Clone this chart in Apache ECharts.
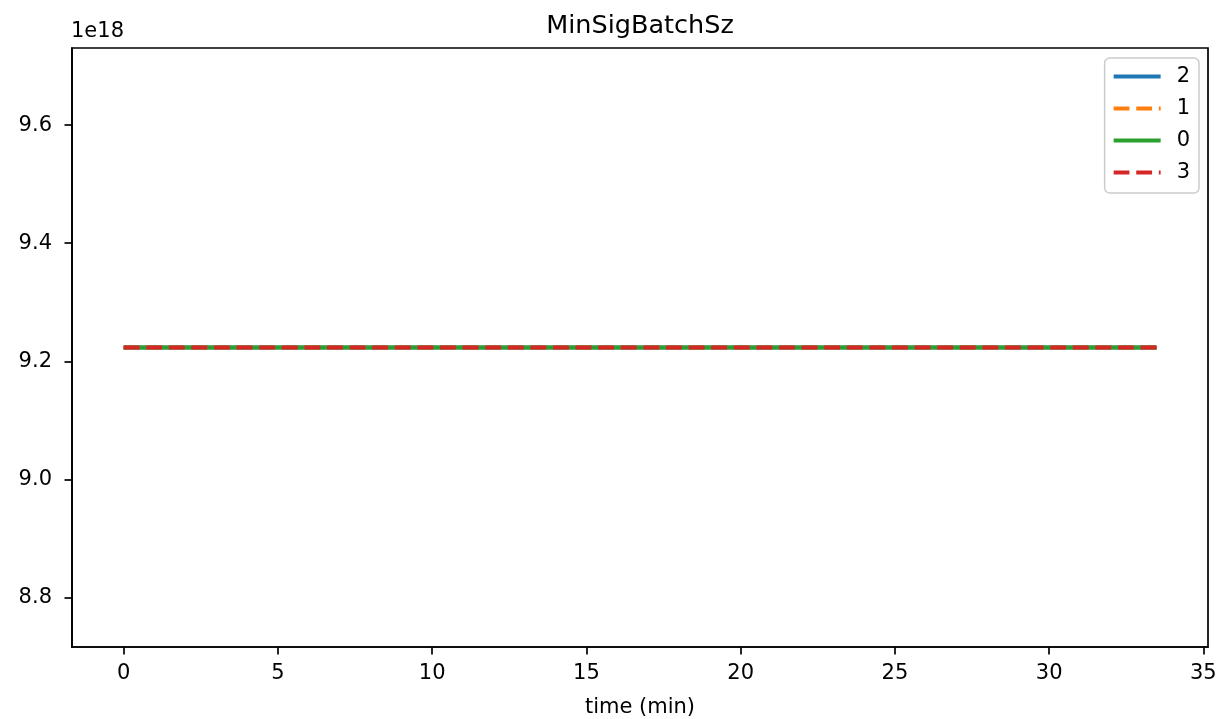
<!DOCTYPE html>
<html><head><meta charset="utf-8">
<script src="https://cdn.jsdelivr.net/npm/echarts@6/dist/echarts.min.js"></script>
<style>html,body{margin:0;padding:0;background:#fff}#c{width:1220px;height:719px}</style>
</head><body><div id="c"></div>
<script>
const times = [0, 2.5, 5, 7.5, 10, 12.5, 15, 17.5, 20, 22.5, 25, 27.5, 30, 32.5, 33.48];
const v2 = [9.223372036854776e18,9.223372036854776e18,9.223372036854776e18,9.223372036854776e18,9.223372036854776e18,9.223372036854776e18,9.223372036854776e18,9.223372036854776e18,9.223372036854776e18,9.223372036854776e18,9.223372036854776e18,9.223372036854776e18,9.223372036854776e18,9.223372036854776e18,9.223372036854776e18];
const v1 = [9.223372036854776e18,9.223372036854776e18,9.223372036854776e18,9.223372036854776e18,9.223372036854776e18,9.223372036854776e18,9.223372036854776e18,9.223372036854776e18,9.223372036854776e18,9.223372036854776e18,9.223372036854776e18,9.223372036854776e18,9.223372036854776e18,9.223372036854776e18,9.223372036854776e18];
const v0 = [9.223372036854776e18,9.223372036854776e18,9.223372036854776e18,9.223372036854776e18,9.223372036854776e18,9.223372036854776e18,9.223372036854776e18,9.223372036854776e18,9.223372036854776e18,9.223372036854776e18,9.223372036854776e18,9.223372036854776e18,9.223372036854776e18,9.223372036854776e18,9.223372036854776e18];
const v3 = [9.223372036854776e18,9.223372036854776e18,9.223372036854776e18,9.223372036854776e18,9.223372036854776e18,9.223372036854776e18,9.223372036854776e18,9.223372036854776e18,9.223372036854776e18,9.223372036854776e18,9.223372036854776e18,9.223372036854776e18,9.223372036854776e18,9.223372036854776e18,9.223372036854776e18];
const seriesNames = ['2', '1', '0', '3'];
const xTicks = [0, 5, 10, 15, 20, 25, 30, 35];
const yTicks = [8.8e18, 9.0e18, 9.2e18, 9.4e18, 9.6e18];

const FONT = 'DejaVu Sans';
const colors = ['#1f77b4', '#ff7f0e', '#2ca02c', '#d62728'];
const types = ['solid', [15.8, 6.8], 'solid', [15.8, 6.8]];
const vals = [v2, v1, v0, v3];
const chart = echarts.init(document.getElementById('c'), null, {renderer: 'canvas'});
chart.setOption({
  animation: false,
  backgroundColor: '#fff',
  title: {text: 'MinSigBatchSz', left: 635, textAlign: 'center', top: 8, textStyle: {fontFamily: FONT, fontSize: 25.5, fontWeight: 'normal', color: '#000'}},
  grid: {left: 72, right: 12, top: 48, bottom: 72, show: true, borderColor: '#000', borderWidth: 1.7, outerBoundsMode: 'none', containLabel: false},
  legend: {
    orient: 'vertical', right: 21, top: 58,
    backgroundColor: 'rgba(255,255,255,0.8)', borderColor: '#cccccc', borderWidth: 1.5, borderRadius: 5,
    padding: [8, 9, 10, 7],
    itemWidth: 47, itemHeight: 1, itemGap: 11,
    itemStyle: {opacity: 0},
    lineStyle: {width: 4},
    textStyle: {fontFamily: FONT, fontSize: 21, lineHeight: 18, color: '#000', padding: [0, 0, 0, 11]},
    data: seriesNames
  },
  xAxis: {
    type: 'value', min: -1.674, max: 35.15,
    name: 'time (min)', nameLocation: 'middle', nameGap: 50,
    nameTextStyle: {fontFamily: FONT, fontSize: 21, color: '#000'},
    axisLine: {show: true, onZero: false, lineStyle: {color: '#000', width: 1.7}},
    splitLine: {show: false},
    axisTick: {show: true, length: 7.5, customValues: xTicks, lineStyle: {color: '#000', width: 1.7}},
    axisLabel: {customValues: xTicks, fontFamily: FONT, fontSize: 21, color: '#000', margin: 16}
  },
  yAxis: {
    type: 'value', min: 8.716086e18, max: 9.730658e18, scale: true,
    axisLine: {show: true, onZero: false, lineStyle: {color: '#000', width: 1.7}},
    splitLine: {show: false},
    axisTick: {show: true, length: 7.5, customValues: yTicks, lineStyle: {color: '#000', width: 1.7}},
    axisLabel: {customValues: yTicks, fontFamily: FONT, fontSize: 21, color: '#000', margin: 20,
      formatter: v => (v / 1e18).toFixed(1)}
  },
  graphic: [{type: 'text', left: 71, top: 21, style: {text: '1e18', font: '21px "DejaVu Sans"', fill: '#000'}}],
  series: seriesNames.map((n, i) => ({
    name: n, type: 'line', symbol: 'none', showSymbol: false,
    data: times.map((t, j) => [t, vals[i][j]]),
    lineStyle: {color: colors[i], width: 4, type: types[i], cap: 'butt'},
    itemStyle: {color: colors[i]},
    z: 2 + i
  }))
});
</script></body></html>
